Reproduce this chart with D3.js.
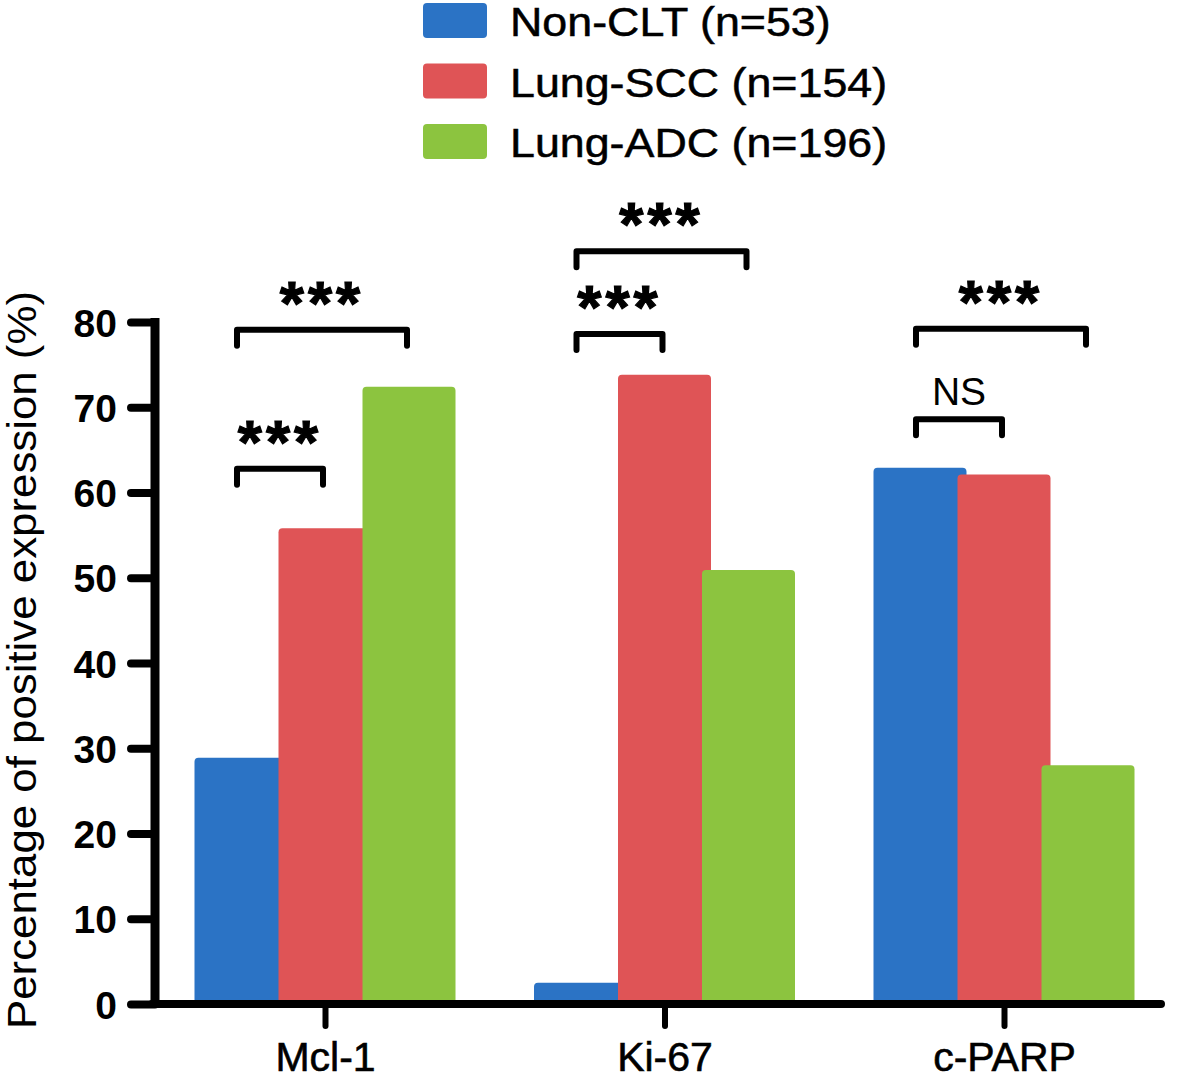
<!DOCTYPE html>
<html><head><meta charset="utf-8">
<script src="https://cdn.jsdelivr.net/npm/d3@7"></script>
<style>
html,body{margin:0;padding:0;background:#fff;}
svg{display:block;font-family:"Liberation Sans",Arial,Helvetica,sans-serif;}
</style></head>
<body>
<svg id="chart" width="1181" height="1080"></svg>
<script>
const categories = ["Mcl-1", "Ki-67", "c-PARP"];
const series = ["Non-CLT (n=53)", "Lung-SCC (n=154)", "Lung-ADC (n=196)"];
const nonCLT  = [28.9, 2.5, 62.9];
const lungSCC = [55.8, 73.8, 62.1];
const lungADC = [72.4, 50.9, 28.0];
const yTicks = [0, 10, 20, 30, 40, 50, 60, 70, 80];
// significance brackets: category, from-series index, to-series index, level (%), label
const sigCat   = ["Mcl-1", "Mcl-1", "Ki-67", "Ki-67", "c-PARP", "c-PARP"];
const sigFrom  = [0, 0, 0, 0, 0, 0];
const sigTo    = [1, 2, 2, 1, 2, 1];
const sigLevel = [62.8, 79.1, 88.3, 78.6, 79.2, 68.6];
const sigLabel = ["***", "***", "***", "***", "***", "NS"];

const colors = ["#2b73c5", "#df5456", "#8cc43f"];
const valuesBySeries = [nonCLT, lungSCC, lungADC];

const svg = d3.select("#chart");
const y = d3.scaleLinear().domain([0, 80]).range([1004, 322]);
const x = d3.scalePoint().domain(categories).range([325, 1004]);
const xi = d3.scalePoint().domain(d3.range(series.length)).range([-84, 84]);
const barW = 93;
const font = '"Liberation Sans",Arial,Helvetica,sans-serif';
const axX = 155;

// bars (drawn series by series so later ones overlap earlier ones)
categories.forEach((c, ci) => {
  series.forEach((s, si) => {
    const v = valuesBySeries[si][ci];
    svg.append("rect")
      .attr("x", x(c) + xi(si) - barW / 2)
      .attr("y", y(v))
      .attr("width", barW)
      .attr("height", y(0) - y(v) + 1)
      .attr("rx", 4)
      .attr("fill", colors[si]);
  });
});

// y axis
const yAxis = d3.axisLeft(y).tickValues(yTicks).tickSize(24).tickPadding(14);
const gy = svg.append("g").attr("transform", `translate(${axX},0)`).call(yAxis);
gy.select(".domain").remove();
gy.selectAll(".tick line").attr("stroke", "#000").attr("stroke-width", 8).attr("stroke-linecap", "round");
gy.selectAll(".tick text").attr("font-family", font).attr("font-size", 39)
  .attr("font-weight", "bold").attr("fill", "#000").attr("dy", "0.36em");
svg.append("line").attr("x1", axX).attr("x2", axX).attr("y1", y(80) - 4).attr("y2", y(0) + 4)
  .attr("stroke", "#000").attr("stroke-width", 9);

// x axis
const xAxis = d3.axisBottom(x).tickSize(22).tickPadding(0);
const gx = svg.append("g").attr("transform", `translate(0,${y(0)})`).call(xAxis);
gx.select(".domain").remove();
gx.selectAll(".tick line").attr("stroke", "#000").attr("stroke-width", 6).attr("stroke-linecap", "round");
gx.selectAll(".tick text").attr("font-family", font).attr("font-size", 41).attr("fill", "#000")
  .attr("dy", 0).attr("y", 67).attr("stroke", "#000").attr("stroke-width", 0.6);
svg.append("line").attr("x1", axX - 3).attr("x2", 1161).attr("y1", y(0)).attr("y2", y(0))
  .attr("stroke", "#000").attr("stroke-width", 8).attr("stroke-linecap", "round");

// y title
svg.append("text")
  .attr("transform", `translate(36,${(y(0) + y(80)) / 2 - 3}) rotate(-90)`)
  .attr("text-anchor", "middle")
  .attr("font-family", font).attr("font-size", 41).attr("fill", "#000")
  .attr("textLength", 738).attr("lengthAdjust", "spacingAndGlyphs")
  .text("Percentage of positive expression (%)");

// significance brackets
sigCat.forEach((c, k) => {
  const x1 = x(c) + xi(sigFrom[k]) - 4;
  const x2 = x(c) + xi(sigTo[k]) - 2;
  const yl = y(sigLevel[k]);
  const leg = 16;
  svg.append("path")
    .attr("d", `M${x1},${yl + leg} L${x1},${yl} L${x2},${yl} L${x2},${yl + leg}`)
    .attr("fill", "none").attr("stroke", "#000").attr("stroke-width", 6)
    .attr("stroke-linecap", "round").attr("stroke-linejoin", "round");
  const isStar = sigLabel[k] !== "NS";
  svg.append("text")
    .attr("x", (x1 + x2) / 2)
    .attr("y", isStar ? yl - 6 : yl - 14)
    .attr("text-anchor", "middle")
    .attr("font-family", font)
    .attr("font-size", isStar ? 62 : 39)
    .attr("font-weight", isStar ? "bold" : "normal")
    .attr("letter-spacing", isStar ? 4 : 0)
    .attr("stroke", isStar ? "#000" : "none").attr("stroke-width", 1.2)
    .attr("fill", "#000")
    .text(sigLabel[k]);
});

// legend
series.forEach((s, i) => {
  const g = svg.append("g").attr("transform", `translate(423,${3 + i * 60.5})`);
  g.append("rect").attr("width", 64).attr("height", 35).attr("rx", 4).attr("fill", colors[i]);
  g.append("text").attr("x", 87).attr("y", 33)
    .attr("font-family", font).attr("font-size", 40).attr("fill", "#000")
    .attr("stroke", "#000").attr("stroke-width", 0.5)
    .attr("transform", "translate(87,0) scale(1.12,1) translate(-87,0)")
    .text(s);
});
</script>
</body></html>
